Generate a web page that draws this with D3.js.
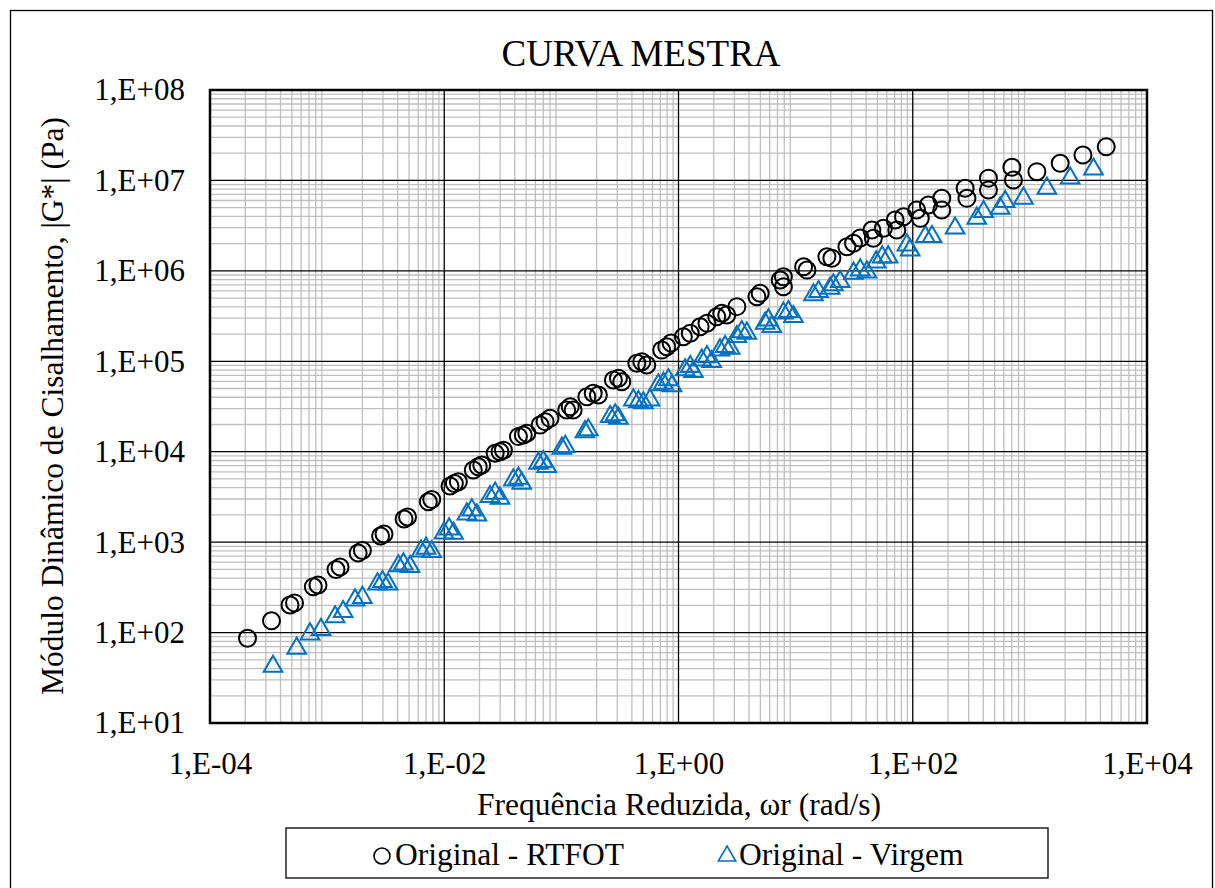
<!DOCTYPE html>
<html><head><meta charset="utf-8">
<script src="https://cdn.jsdelivr.net/npm/d3@7"></script>
<style>body{margin:0;background:#fff;}svg{display:block;}text{font-family:"Liberation Serif","Times New Roman",serif;}</style>
</head><body>
<svg id="c" width="1215" height="888"></svg>
<script>
const titleText = "CURVA MESTRA";
const xTitle = "Frequência Reduzida, ωr (rad/s)";
const yTitle = "Módulo Dinâmico de Cisalhamento, |G*| (Pa)";
const seriesNames = ["Original - RTFOT", "Original - Virgem"];
const xTicks = [1e-4, 1e-2, 1e0, 1e2, 1e4];
const xTickLabels = ["1,E-04", "1,E-02", "1,E+00", "1,E+02", "1,E+04"];
const yTicks = [1e1, 1e2, 1e3, 1e4, 1e5, 1e6, 1e7, 1e8];
const yTickLabels = ["1,E+01", "1,E+02", "1,E+03", "1,E+04", "1,E+05", "1,E+06", "1,E+07", "1,E+08"];

const rtfotFreq = [2.09e-4,3.35e-4,4.82e-4,5.27e-4,7.62e-4,8.36e-4,1.19e-3,1.29e-3,1.84e-3,2.00e-3,2.86e-3,3.06e-3,4.54e-3,4.86e-3,7.31e-3,7.82e-3,1.12e-2,1.22e-2,1.32e-2,1.77e-2,1.95e-2,2.09e-2,2.72e-2,2.99e-2,3.20e-2,4.30e-2,4.73e-2,5.07e-2,6.58e-2,7.26e-2,8.00e-2,0.111,0.119,0.126,0.165,0.187,0.207,0.278,0.307,0.328,0.441,0.486,0.536,0.719,0.794,0.865,1.10,1.26,1.53,1.75,2.12,2.34,2.58,3.15,4.67,4.98,7.38,7.87,7.87,11.7,12.5,18.5,20.4,27.4,31.2,35.6,44.8,46.1,56.2,70.8,73.1,83.4,108,116,136,177,177,280,290,443,443,702,724,1148,1815,2838,4487];
const rtfotG = [86.5,135,202,213,321,336,499,531,759,809,1170,1230,1800,1900,2800,2960,4180,4450,4660,6280,6830,7130,9610,10000,10400,14700,15300,16000,19700,21500,23400,28900,31500,28900,40600,44300,42400,62100,64900,59400,95000,98900,91000,133000,145000,159000,187000,204000,241000,263000,311000,340000,325000,402000,518000,565000,793000,861000,668000,1.11e6,1.02e6,1.43e6,1.38e6,1.85e6,2.02e6,2.31e6,2.83e6,2.29e6,2.96e6,3.65e6,2.83e6,3.97e6,4.71e6,3.81e6,5.35e6,6.34e6,4.71e6,8.18e6,6.34e6,1.06e7,7.84e6,1.40e7,1.01e7,1.25e7,1.55e7,1.91e7,2.36e7];

const virgemFreq = [3.45e-4,5.50e-4,7.14e-4,8.87e-4,1.17e-3,1.37e-3,1.73e-3,2.00e-3,2.69e-3,2.97e-3,3.31e-3,4.06e-3,4.48e-3,5.11e-3,6.34e-3,7.00e-3,7.82e-3,9.95e-3,1.10e-2,1.20e-2,1.56e-2,1.72e-2,1.90e-2,2.46e-2,2.72e-2,2.99e-2,3.89e-2,4.30e-2,4.59e-2,6.37e-2,7.01e-2,7.50e-2,0.101,0.108,0.159,0.170,0.261,0.288,0.307,0.412,0.455,0.501,0.571,0.673,0.743,0.821,0.881,1.14,1.26,1.34,1.58,1.75,1.92,2.26,2.50,2.76,3.15,3.47,3.83,5.49,5.86,6.26,7.87,8.68,9.58,14.2,15.7,19.7,21.0,24.0,31.2,35.6,40.6,48.7,54.8,61.7,89.1,95.0,128,146,230,352,402,557,615,881,1397,2208,3491];
const virgemG = [42.2,67.0,96.4,108,149,170,229,244,344,365,344,545,573,535,798,855,784,1262,1397,1253,2047,2265,1995,3184,3467,3055,4864,5082,4477,7447,7762,6830,10900,11400,16600,17400,24400,25500,23400,37300,35700,34600,37300,54700,57100,62100,53300,80100,87100,76700,103000,112000,98900,133000,145000,139000,187000,212000,204000,263000,286000,241000,340000,353000,311000,541000,589000,641000,698000,759000,940000,1.02e6,971000,1.25e6,1.42e6,1.42e6,1.93e6,1.70e6,2.39e6,2.39e6,2.96e6,3.81e6,4.51e6,4.92e6,5.82e6,6.34e6,8.18e6,1.06e7,1.33e7];

const FONT = "Liberation Serif, Times New Roman, serif";
const svg = d3.select("#c");
const L = 210, R = 1147, T = 90, B = 723;
const x = d3.scaleLog().domain([1e-4, 1e4]).range([L, R]);
const y = d3.scaleLog().domain([1e1, 1e8]).range([B, T]);
const blue = "#0070C0";

// outer chart border
svg.append("rect").attr("x", 10.5).attr("y", 10.5).attr("width", 1202).attr("height", 890)
  .attr("fill", "#fff").attr("stroke", "#000").attr("stroke-width", 1.3);

// minor gridlines
const minorX = [], minorY = [];
for (let e = -4; e < 4; e++) for (let m = 2; m <= 9; m++) minorX.push(m * Math.pow(10, e));
for (let e = 1; e < 8; e++) for (let m = 2; m <= 9; m++) minorY.push(m * Math.pow(10, e));
const g = svg.append("g");
g.selectAll("line.mx").data(minorX).join("line").attr("x1", d => x(d)).attr("x2", d => x(d))
  .attr("y1", T).attr("y2", B).attr("stroke", "#bfbfbf").attr("stroke-width", 1.3);
g.selectAll("line.my").data(minorY).join("line").attr("y1", d => y(d)).attr("y2", d => y(d))
  .attr("x1", L).attr("x2", R).attr("stroke", "#bfbfbf").attr("stroke-width", 1.3);
// major gridlines
g.selectAll("line.Mx").data(xTicks).join("line").attr("x1", d => x(d)).attr("x2", d => x(d))
  .attr("y1", T).attr("y2", B).attr("stroke", "#000").attr("stroke-width", 1.3);
g.selectAll("line.My").data(yTicks).join("line").attr("y1", d => y(d)).attr("y2", d => y(d))
  .attr("x1", L).attr("x2", R).attr("stroke", "#000").attr("stroke-width", 1.3);
// plot border
svg.append("rect").attr("x", L).attr("y", T).attr("width", R - L).attr("height", B - T)
  .attr("fill", "none").attr("stroke", "#000").attr("stroke-width", 2.5);

// axes (text only)
const xAxis = d3.axisBottom(x).tickValues(xTicks).tickFormat((d, i) => xTickLabels[i]).tickSize(0).tickPadding(29);
const gx = svg.append("g").attr("transform", `translate(0,${B})`).call(xAxis).attr("font-family", FONT).attr("font-size", 31);
gx.select(".domain").remove();
gx.selectAll("text").attr("fill", "#000");
const yAxis = d3.axisLeft(y).tickValues(yTicks).tickFormat((d, i) => yTickLabels[i]).tickSize(0).tickPadding(25);
const gy = svg.append("g").attr("transform", `translate(${L},0)`).call(yAxis).attr("font-family", FONT).attr("font-size", 31);
gy.select(".domain").remove();
gy.selectAll("text").attr("fill", "#000");

// titles
svg.append("text").attr("x", 641).attr("y", 66).attr("text-anchor", "middle").attr("font-size", 37).text(titleText);
svg.append("text").attr("x", 679).attr("y", 815).attr("text-anchor", "middle").attr("font-size", 31.5).text(xTitle);
svg.append("text").attr("transform", "translate(63,406) rotate(-90)").attr("text-anchor", "middle").attr("font-size", 31.5).text(yTitle);

// data
const tri = d3.symbol().type(d3.symbolTriangle).size(150);
const rt = rtfotFreq.map((f, i) => [f, rtfotG[i]]);
const vg = virgemFreq.map((f, i) => [f, virgemG[i]]);
const plot = svg.append("g");
plot.selectAll("path.v").data(vg).join("path").attr("d", tri)
  .attr("transform", d => `translate(${x(d[0])},${y(d[1])})`)
  .attr("fill", "none").attr("stroke", blue).attr("stroke-width", 2);
plot.selectAll("circle.r").data(rt).join("circle").attr("cx", d => x(d[0])).attr("cy", d => y(d[1])).attr("r", 8.5)
  .attr("fill", "none").attr("stroke", "#000").attr("stroke-width", 2);

// legend
svg.append("rect").attr("x", 286).attr("y", 828).attr("width", 762).attr("height", 50)
  .attr("fill", "#fff").attr("stroke", "#000").attr("stroke-width", 1.3);
svg.append("circle").attr("cx", 382).attr("cy", 856).attr("r", 8).attr("fill", "none").attr("stroke", "#000").attr("stroke-width", 1.6);
svg.append("text").attr("x", 395).attr("y", 865).attr("font-size", 31.5).text(seriesNames[0]);
svg.append("path").attr("d", d3.symbol().type(d3.symbolTriangle).size(130))
  .attr("transform", "translate(727,856)").attr("fill", "none").attr("stroke", blue).attr("stroke-width", 1.6);
svg.append("text").attr("x", 739).attr("y", 865).attr("font-size", 31.5).text(seriesNames[1]);
</script>
</body></html>
